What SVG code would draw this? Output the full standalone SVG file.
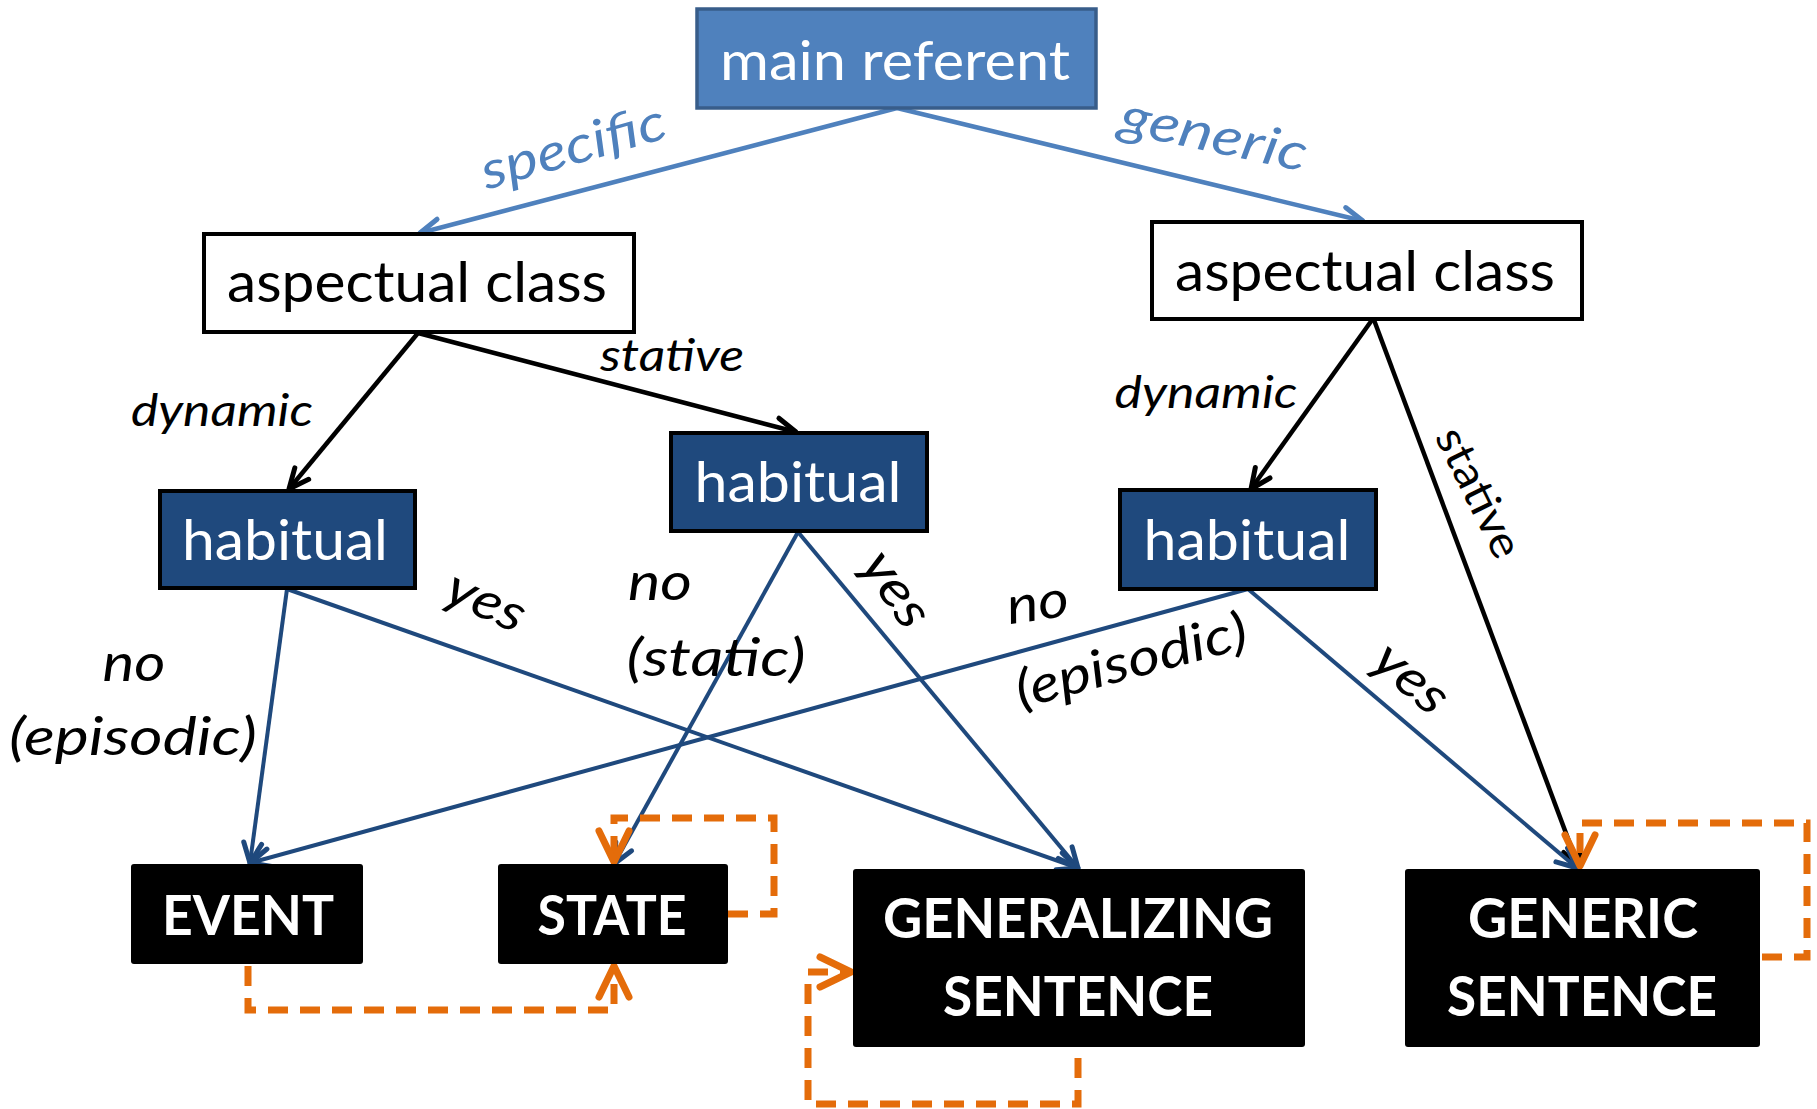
<svg xmlns="http://www.w3.org/2000/svg" width="1817" height="1109" viewBox="0 0 1817 1109">
<defs>
<style>
.t{font-family:Lato,"Open Sans","DejaVu Sans",sans-serif;text-anchor:middle}
.w{fill:#ffffff}
.k{fill:#000000}
.b{font-weight:bold}
.i{font-style:italic}
.lb{fill:none;stroke:#4f81bd;stroke-width:4.5}
.lk{fill:none;stroke:#000000;stroke-width:4.5}
.ld{fill:none;stroke:#1f497d;stroke-width:4}
.lo{fill:none;stroke:#e46c0a;stroke-width:7;stroke-dasharray:20 12}
</style>
<marker id="mb" markerUnits="userSpaceOnUse" orient="auto" overflow="visible" markerWidth="1" markerHeight="1"><path d="M-20,-9 L0,0 L-20,9" fill="none" stroke="#4f81bd" stroke-width="5" stroke-linecap="round" stroke-linejoin="round"/></marker>
<marker id="mk" markerUnits="userSpaceOnUse" orient="auto" overflow="visible" markerWidth="1" markerHeight="1"><path d="M-20,-9 L0,0 L-20,9" fill="none" stroke="#000000" stroke-width="5" stroke-linecap="round" stroke-linejoin="round"/></marker>
<marker id="md" markerUnits="userSpaceOnUse" orient="auto" overflow="visible" markerWidth="1" markerHeight="1"><path d="M-20,-9 L0,0 L-20,9" fill="none" stroke="#1f497d" stroke-width="5" stroke-linecap="round" stroke-linejoin="round"/></marker>
<marker id="mo" markerUnits="userSpaceOnUse" orient="auto" overflow="visible" markerWidth="1" markerHeight="1"><path d="M-31,-15 L0,0 L-31,15" fill="none" stroke="#e46c0a" stroke-width="7" stroke-linecap="round" stroke-linejoin="round"/></marker>
</defs>
<rect width="1817" height="1109" fill="#ffffff"/>

<g id="connectors">
<line class="lb" x1="897" y1="108" x2="420" y2="233" marker-end="url(#mb)"/>
<line class="lb" x1="897" y1="108" x2="1363" y2="221" marker-end="url(#mb)"/>
<line class="lk" x1="418" y1="333" x2="289" y2="489" marker-end="url(#mk)"/>
<line class="lk" x1="418" y1="333" x2="796" y2="432" marker-end="url(#mk)"/>
<line class="lk" x1="1372" y1="320" x2="1251" y2="489" marker-end="url(#mk)"/>
<line class="lk" x1="1374" y1="320" x2="1579" y2="868" marker-end="url(#mk)"/>
<line class="ld" x1="287" y1="589" x2="250" y2="863" marker-end="url(#md)"/>
<line class="ld" x1="287" y1="589" x2="1078" y2="868" marker-end="url(#md)"/>
<line class="ld" x1="798" y1="532" x2="614" y2="864" marker-end="url(#md)"/>
<line class="ld" x1="798" y1="532" x2="1078" y2="868" marker-end="url(#md)"/>
<line class="ld" x1="1248" y1="589" x2="250" y2="863" marker-end="url(#md)"/>
<line class="ld" x1="1248" y1="589" x2="1577" y2="868" marker-end="url(#md)"/>
<path class="lo" d="M728,914 H774 V818 H614 V862" marker-end="url(#mo)"/>
<path class="lo" d="M248,966 V1010 H614 V966" marker-end="url(#mo)"/>
<path class="lo" d="M1078,1058 V1104 H808 V972 H851" marker-end="url(#mo)"/>
<path class="lo" d="M1762,957 H1807 V823 H1580 V866" marker-end="url(#mo)"/>
</g>

<g id="node-main-referent">
<rect x="697" y="9" width="399" height="99" fill="#4f81bd" stroke="#385d8a" stroke-width="3.5"/>
<text class="t w" x="895" y="80" font-size="54" textLength="350" lengthAdjust="spacingAndGlyphs">main referent</text>
</g>
<g id="node-aspectual-left">
<rect x="204" y="234" width="430" height="98" fill="#ffffff" stroke="#000000" stroke-width="4"/>
<text class="t k" x="417" y="302" font-size="56" textLength="380" lengthAdjust="spacingAndGlyphs">aspectual class</text>
</g>
<g id="node-aspectual-right">
<rect x="1152" y="222" width="430" height="97" fill="#ffffff" stroke="#000000" stroke-width="4"/>
<text class="t k" x="1365" y="291" font-size="56" textLength="380" lengthAdjust="spacingAndGlyphs">aspectual class</text>
</g>
<g id="node-habitual-left">
<rect x="160" y="491" width="255" height="97" fill="#1f497d" stroke="#000000" stroke-width="4"/>
<text class="t w" x="285" y="560" font-size="56" textLength="206" lengthAdjust="spacingAndGlyphs">habitual</text>
</g>
<g id="node-habitual-middle">
<rect x="671" y="433" width="256" height="98" fill="#1f497d" stroke="#000000" stroke-width="4"/>
<text class="t w" x="798" y="502" font-size="56" textLength="207" lengthAdjust="spacingAndGlyphs">habitual</text>
</g>
<g id="node-habitual-right">
<rect x="1120" y="490" width="256" height="99" fill="#1f497d" stroke="#000000" stroke-width="4"/>
<text class="t w" x="1247" y="560" font-size="56" textLength="207" lengthAdjust="spacingAndGlyphs">habitual</text>
</g>
<g id="node-event">
<rect x="131" y="864" width="232" height="100" rx="3" fill="#000000"/>
<text class="t w b" x="248" y="935" font-size="55" textLength="172" lengthAdjust="spacingAndGlyphs">EVENT</text>
</g>
<g id="node-state">
<rect x="498" y="864" width="230" height="100" rx="3" fill="#000000"/>
<text class="t w b" x="612" y="935" font-size="55" textLength="149" lengthAdjust="spacingAndGlyphs">STATE</text>
</g>
<g id="node-generalizing">
<rect x="853" y="869" width="452" height="178" rx="3" fill="#000000"/>
<text class="t w b" x="1078" y="938" font-size="55" textLength="390" lengthAdjust="spacingAndGlyphs">GENERALIZING</text>
<text class="t w b" x="1078" y="1016" font-size="55" textLength="270" lengthAdjust="spacingAndGlyphs">SENTENCE</text>
</g>
<g id="node-generic">
<rect x="1405" y="869" width="355" height="178" rx="3" fill="#000000"/>
<text class="t w b" x="1583" y="938" font-size="55" textLength="230" lengthAdjust="spacingAndGlyphs">GENERIC</text>
<text class="t w b" x="1582" y="1016" font-size="55" textLength="270" lengthAdjust="spacingAndGlyphs">SENTENCE</text>
</g>

<g id="labels">
<text class="t i" fill="#4f81bd" font-size="52" transform="translate(574,150) rotate(-16)" y="14" textLength="190" lengthAdjust="spacingAndGlyphs">specific</text>
<text class="t i" fill="#4f81bd" font-size="52" transform="translate(1213,138) rotate(12)" y="14" textLength="190" lengthAdjust="spacingAndGlyphs">generic</text>
<text class="t k i" x="672" y="371" font-size="44" textLength="144" lengthAdjust="spacingAndGlyphs">stative</text>
<text class="t k i" x="222" y="426" font-size="44" textLength="182" lengthAdjust="spacingAndGlyphs">dynamic</text>
<text class="t k i" x="1206" y="408" font-size="44" textLength="183" lengthAdjust="spacingAndGlyphs">dynamic</text>
<text class="t k" font-size="44" transform="translate(1478,493) rotate(63.6)" y="14" textLength="140" lengthAdjust="spacingAndGlyphs">stative</text>
<text class="t k i" x="134" y="681" font-size="52" textLength="63" lengthAdjust="spacingAndGlyphs">no</text>
<text class="t k i" x="133" y="755" font-size="52" textLength="248" lengthAdjust="spacingAndGlyphs">(episodic)</text>
<text class="t k i" x="660" y="600" font-size="52" textLength="64" lengthAdjust="spacingAndGlyphs">no</text>
<text class="t k i" x="716" y="676" font-size="52" textLength="179" lengthAdjust="spacingAndGlyphs">(static)</text>
<text class="t k i" font-size="52" transform="translate(484,606) rotate(24)" y="12" textLength="82" lengthAdjust="spacingAndGlyphs">yes</text>
<text class="t k i" font-size="52" transform="translate(892,592) rotate(55)" y="12" textLength="82" lengthAdjust="spacingAndGlyphs">yes</text>
<text class="t k i" font-size="52" transform="translate(1408,682) rotate(40)" y="12" textLength="82" lengthAdjust="spacingAndGlyphs">yes</text>
<text class="t k i" font-size="52" transform="translate(1038,606) rotate(-8)" y="14" textLength="62" lengthAdjust="spacingAndGlyphs">no</text>
<text class="t k i" font-size="52" transform="translate(1132,664) rotate(-15)" y="14" textLength="238" lengthAdjust="spacingAndGlyphs">(episodic)</text>
</g>
</svg>
